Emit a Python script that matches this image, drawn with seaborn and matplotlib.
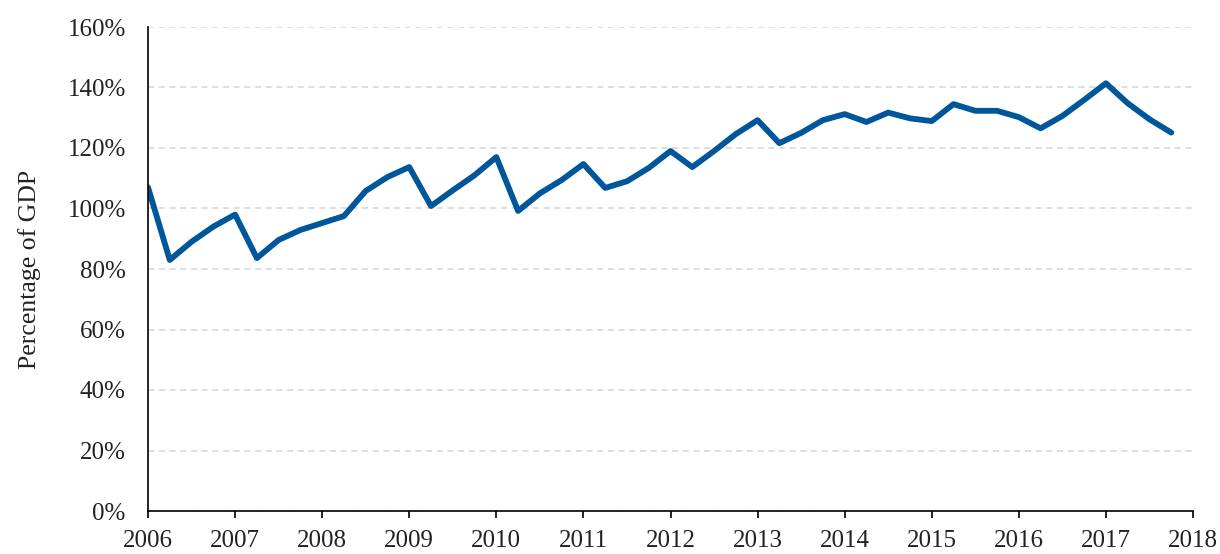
import numpy as np
import pandas as pd
import seaborn as sns
import matplotlib.pyplot as plt
from matplotlib.ticker import FuncFormatter

# quarterly observations, 2006Q1 .. 2017Q4 (percent of GDP)
years = [2006, 2007, 2008, 2009, 2010, 2011, 2012, 2013, 2014, 2015, 2016, 2017]
quarters = [0.0, 0.25, 0.5, 0.75]
share = [
    107.0, 83.0, 89.0, 94.0,      # 2006
    98.0, 83.6, 89.6, 92.9,       # 2007
    95.2, 97.5, 105.8, 110.4,     # 2008
    113.7, 100.8, 106.0, 111.0,   # 2009
    117.0, 99.2, 105.0, 109.4,    # 2010
    114.7, 106.8, 109.0, 113.4,   # 2011
    119.0, 113.7, 119.0, 124.6,   # 2012
    129.2, 121.6, 125.0, 129.2,   # 2013
    131.2, 128.6, 131.7, 129.8,   # 2014
    128.9, 134.5, 132.3, 132.3,   # 2015
    130.2, 126.5, 130.6, 135.9,   # 2016
    141.4, 134.8, 129.5, 125.1,   # 2017
]

x_ticks = list(range(2006, 2019))
y_ticks = [0, 20, 40, 60, 80, 100, 120, 140, 160]

period = [y + q for y in years for q in quarters]
df = pd.DataFrame({"period": period, "share": share})

sns.set_theme(style="white")
plt.rcParams["font.family"] = ["Liberation Serif", "DejaVu Serif"]

fig = plt.figure(figsize=(12.2, 5.54), dpi=100)
ax = fig.add_axes([148 / 1220, 1 - 511 / 554, (1193 - 148) / 1220, (511 - 27) / 554])

sns.lineplot(data=df, x="period", y="share", color="#00569A", linewidth=4.2, ax=ax)

ax.set_xlim(2006, 2018)
ax.set_ylim(0, 160)
ax.set_xticks(x_ticks)
ax.set_yticks(y_ticks)
ax.yaxis.set_major_formatter(FuncFormatter(lambda v, p: f"{v:.0f}%"))

ax.grid(axis="y", color="#D4D4D4", linestyle=(0, (4, 3)), linewidth=1.1)
ax.set_axisbelow(True)
for s in ["top", "right"]:
    ax.spines[s].set_visible(False)
for s in ["left", "bottom"]:
    ax.spines[s].set_color("black")
    ax.spines[s].set_linewidth(1.2)

ax.tick_params(axis="x", direction="out", length=5, width=1.2, color="black",
               bottom=True, pad=9, labelsize=18, labelcolor="#222222")
ax.tick_params(axis="y", length=0, pad=16, labelsize=18, labelcolor="#222222")

ax.set_xlabel("")
ax.set_ylabel("Percentage of GDP", fontsize=18.5, color="#222222", labelpad=19)

fig.savefig("out.png", dpi=100)
